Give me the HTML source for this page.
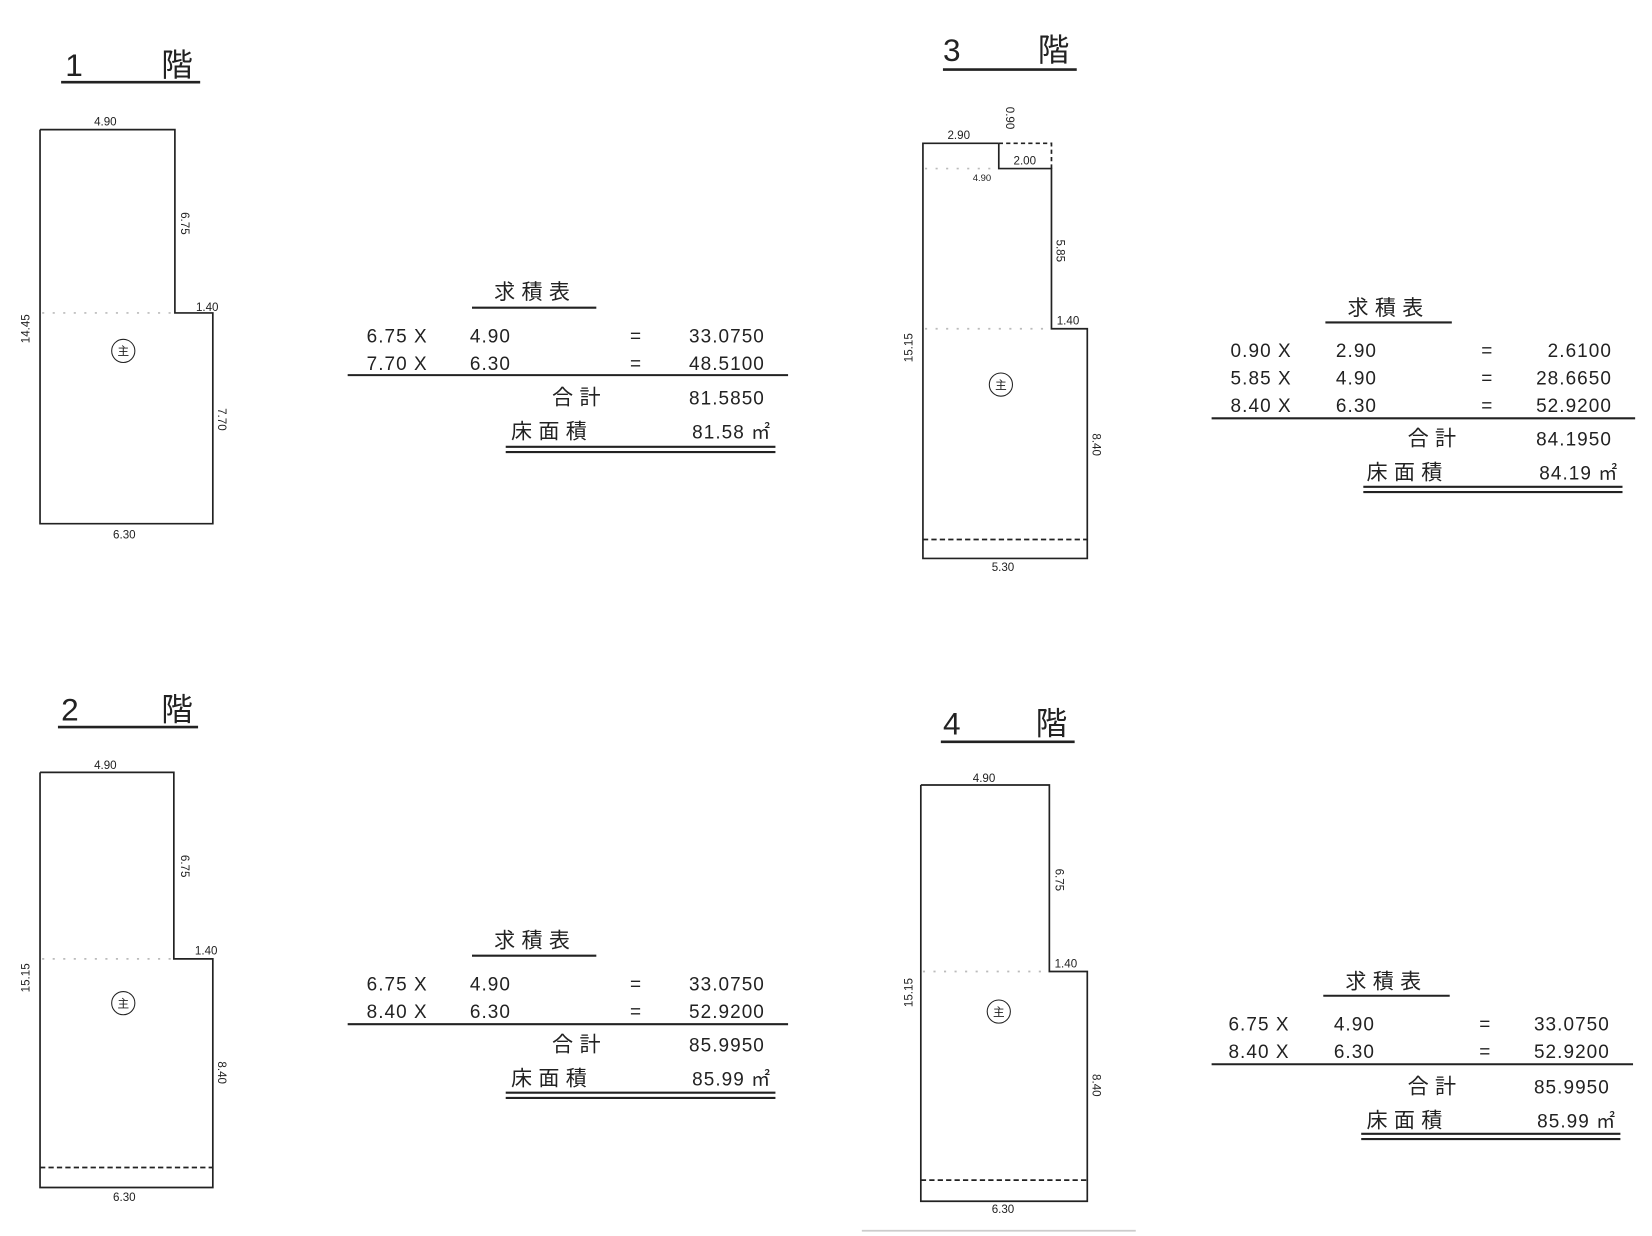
<!DOCTYPE html>
<html><head><meta charset="utf-8"><style>
html,body{margin:0;padding:0;background:#fff;}
svg{display:block;}
text{font-family:"Liberation Sans","Noto Sans CJK JP",sans-serif;fill:#222;}
.t{font-size:30px;}
.s{font-size:11px;}
.r{font-size:18px;letter-spacing:1px;}
.h{font-size:20px;letter-spacing:6px;}
</style></head><body>
<svg width="1652" height="1236" viewBox="0 0 1568 1173" preserveAspectRatio="none" xmlns="http://www.w3.org/2000/svg">
<rect width="1568" height="1173" fill="#fff"/>
<g stroke="#222" stroke-width="1.6" fill="none">
<polyline points="38,123 166,123 166,297 202,297 202,497 38,497 38,123"/>
<line x1="58" y1="78" x2="190" y2="78" stroke-width="2.5"/>
<line x1="40" y1="297" x2="164" y2="297" stroke="#bbb" stroke-dasharray="2,8"/>
<circle cx="117" cy="333" r="11" stroke-width="1"/>
<polyline points="38,733 165,733 165,910 202,910 202,1127 38,1127 38,733"/>
<line x1="55" y1="690" x2="188" y2="690" stroke-width="2.5"/>
<line x1="40" y1="910" x2="163" y2="910" stroke="#bbb" stroke-dasharray="2,8"/>
<line x1="38" y1="1108" x2="202" y2="1108" stroke-dasharray="5,3"/>
<circle cx="117" cy="952" r="11" stroke-width="1"/>
<polyline points="948,136 876,136 876,530 1032,530 1032,312 998,312 998,160 948,160 948,136"/>
<polyline points="948,136 998,136 998,160" stroke-dasharray="4,3"/>
<line x1="895" y1="66" x2="1022" y2="66" stroke-width="2.5"/>
<line x1="878" y1="312" x2="996" y2="312" stroke="#bbb" stroke-dasharray="2,8"/>
<line x1="878" y1="160" x2="946" y2="160" stroke="#bbb" stroke-dasharray="2,8"/>
<line x1="876" y1="512" x2="1032" y2="512" stroke-dasharray="5,3"/>
<circle cx="950" cy="365" r="11" stroke-width="1"/>
<polyline points="874,745 996,745 996,922 1032,922 1032,1140 874,1140 874,745"/>
<line x1="893" y1="704" x2="1020" y2="704" stroke-width="2.5"/>
<line x1="876" y1="922" x2="994" y2="922" stroke="#bbb" stroke-dasharray="2,8"/>
<line x1="874" y1="1120" x2="1032" y2="1120" stroke-dasharray="5,3"/>
<circle cx="948" cy="960" r="11" stroke-width="1"/>
<line x1="818" y1="1168" x2="1078" y2="1168" stroke="#ccc"/>
<line x1="448" y1="292" x2="566" y2="292" stroke-width="2"/>
<line x1="330" y1="356" x2="748" y2="356" stroke-width="2"/>
<line x1="480" y1="424" x2="736" y2="424" stroke-width="2"/>
<line x1="480" y1="429" x2="736" y2="429" stroke-width="2"/>
<line x1="448" y1="907" x2="566" y2="907" stroke-width="2"/>
<line x1="330" y1="972" x2="748" y2="972" stroke-width="2"/>
<line x1="480" y1="1037" x2="736" y2="1037" stroke-width="2"/>
<line x1="480" y1="1042" x2="736" y2="1042" stroke-width="2"/>
<line x1="1258" y1="306" x2="1378" y2="306" stroke-width="2"/>
<line x1="1150" y1="397" x2="1552" y2="397" stroke-width="2"/>
<line x1="1294" y1="462" x2="1540" y2="462" stroke-width="2"/>
<line x1="1294" y1="467" x2="1540" y2="467" stroke-width="2"/>
<line x1="1256" y1="945" x2="1376" y2="945" stroke-width="2"/>
<line x1="1150" y1="1010" x2="1550" y2="1010" stroke-width="2"/>
<line x1="1292" y1="1076" x2="1538" y2="1076" stroke-width="2"/>
<line x1="1292" y1="1081" x2="1538" y2="1081" stroke-width="2"/>
</g>
<text class="t" x="62" y="72">1</text><text class="t" x="153" y="72">階</text>
<text class="t" x="58" y="684">2</text><text class="t" x="153" y="684">階</text>
<text class="t" x="895" y="58">3</text><text class="t" x="985" y="58">階</text>
<text class="t" x="895" y="697">4</text><text class="t" x="983" y="697">階</text>
<text class="s" x="117" y="337" text-anchor="middle">主</text>
<text class="s" x="117" y="956" text-anchor="middle">主</text>
<text class="s" x="950" y="369" text-anchor="middle">主</text>
<text class="s" x="948" y="964" text-anchor="middle">主</text>
<text class="s" x="100" y="119" text-anchor="middle">4.90</text>
<text class="s" x="118" y="511" text-anchor="middle">6.30</text>
<text class="s" x="186" y="295">1.40</text>
<text class="s" transform="translate(172,212) rotate(90)" text-anchor="middle">6.75</text>
<text class="s" transform="translate(28,312) rotate(-90)" text-anchor="middle">14.45</text>
<text class="s" transform="translate(207,398) rotate(90)" text-anchor="middle">7.70</text>
<text class="s" x="100" y="730" text-anchor="middle">4.90</text>
<text class="s" x="118" y="1140" text-anchor="middle">6.30</text>
<text class="s" x="185" y="906">1.40</text>
<text class="s" transform="translate(172,822) rotate(90)" text-anchor="middle">6.75</text>
<text class="s" transform="translate(28,928) rotate(-90)" text-anchor="middle">15.15</text>
<text class="s" transform="translate(207,1018) rotate(90)" text-anchor="middle">8.40</text>
<text class="s" x="910" y="132" text-anchor="middle">2.90</text>
<text class="s" transform="translate(955,112) rotate(90)" text-anchor="middle">0.90</text>
<text class="s" x="962" y="156">2.00</text>
<text class="s" x="932" y="172" text-anchor="middle" style="font-size:9px">4.90</text>
<text class="s" transform="translate(1003,238) rotate(90)" text-anchor="middle">5.85</text>
<text class="s" transform="translate(866,330) rotate(-90)" text-anchor="middle">15.15</text>
<text class="s" x="1003" y="308">1.40</text>
<text class="s" transform="translate(1037,422) rotate(90)" text-anchor="middle">8.40</text>
<text class="s" x="952" y="542" text-anchor="middle">5.30</text>
<text class="s" x="934" y="742" text-anchor="middle">4.90</text>
<text class="s" transform="translate(1002,835) rotate(90)" text-anchor="middle">6.75</text>
<text class="s" transform="translate(866,942) rotate(-90)" text-anchor="middle">15.15</text>
<text class="s" x="1001" y="918">1.40</text>
<text class="s" transform="translate(1037,1030) rotate(90)" text-anchor="middle">8.40</text>
<text class="s" x="952" y="1151" text-anchor="middle">6.30</text>
<text class="h" x="508" y="284" text-anchor="middle">求積表</text>
<text class="r" x="348" y="325">6.75 X</text><text class="r" x="446" y="325">4.90</text><text class="r" x="598" y="325">=</text><text class="r" x="726" y="325" text-anchor="end">33.0750</text>
<text class="r" x="348" y="351">7.70 X</text><text class="r" x="446" y="351">6.30</text><text class="r" x="598" y="351">=</text><text class="r" x="726" y="351" text-anchor="end">48.5100</text>
<text class="h" x="524" y="384">合計</text><text class="r" x="726" y="384" text-anchor="end">81.5850</text>
<text class="h" x="485" y="416">床面積</text><text class="r" x="732" y="416" text-anchor="end">81.58 ㎡</text>
<text class="h" x="508" y="899" text-anchor="middle">求積表</text>
<text class="r" x="348" y="940">6.75 X</text><text class="r" x="446" y="940">4.90</text><text class="r" x="598" y="940">=</text><text class="r" x="726" y="940" text-anchor="end">33.0750</text>
<text class="r" x="348" y="966">8.40 X</text><text class="r" x="446" y="966">6.30</text><text class="r" x="598" y="966">=</text><text class="r" x="726" y="966" text-anchor="end">52.9200</text>
<text class="h" x="524" y="998">合計</text><text class="r" x="726" y="998" text-anchor="end">85.9950</text>
<text class="h" x="485" y="1030">床面積</text><text class="r" x="732" y="1030" text-anchor="end">85.99 ㎡</text>
<text class="h" x="1318" y="299" text-anchor="middle">求積表</text>
<text class="r" x="1168" y="339">0.90 X</text><text class="r" x="1268" y="339">2.90</text><text class="r" x="1406" y="339">=</text><text class="r" x="1530" y="339" text-anchor="end">2.6100</text>
<text class="r" x="1168" y="365">5.85 X</text><text class="r" x="1268" y="365">4.90</text><text class="r" x="1406" y="365">=</text><text class="r" x="1530" y="365" text-anchor="end">28.6650</text>
<text class="r" x="1168" y="391">8.40 X</text><text class="r" x="1268" y="391">6.30</text><text class="r" x="1406" y="391">=</text><text class="r" x="1530" y="391" text-anchor="end">52.9200</text>
<text class="h" x="1336" y="423">合計</text><text class="r" x="1530" y="423" text-anchor="end">84.1950</text>
<text class="h" x="1297" y="455">床面積</text><text class="r" x="1536" y="455" text-anchor="end">84.19 ㎡</text>
<text class="h" x="1316" y="938" text-anchor="middle">求積表</text>
<text class="r" x="1166" y="978">6.75 X</text><text class="r" x="1266" y="978">4.90</text><text class="r" x="1404" y="978">=</text><text class="r" x="1528" y="978" text-anchor="end">33.0750</text>
<text class="r" x="1166" y="1004">8.40 X</text><text class="r" x="1266" y="1004">6.30</text><text class="r" x="1404" y="1004">=</text><text class="r" x="1528" y="1004" text-anchor="end">52.9200</text>
<text class="h" x="1336" y="1038">合計</text><text class="r" x="1528" y="1038" text-anchor="end">85.9950</text>
<text class="h" x="1297" y="1070">床面積</text><text class="r" x="1534" y="1070" text-anchor="end">85.99 ㎡</text>
</svg>
</body></html>
